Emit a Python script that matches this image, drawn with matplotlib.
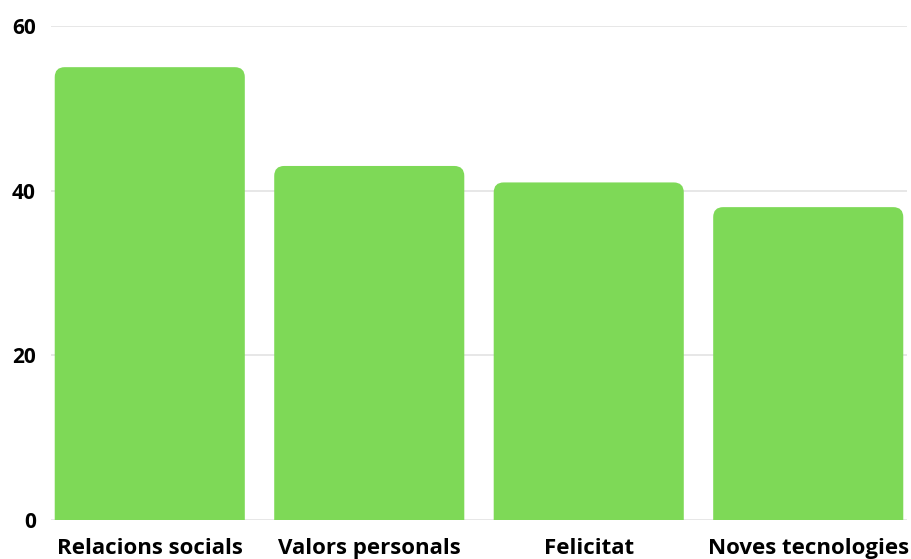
import matplotlib.pyplot as plt
from matplotlib.patches import PathPatch
from matplotlib.path import Path

# Data
categories = ["Relacions socials", "Valors personals", "Felicitat", "Noves tecnologies"]
values = [55, 43, 41, 38]
yticks = [0, 20, 40, 60]

bar_color = "#7ED957"
plt.rcParams['font.family'] = ['Open Sans', 'DejaVu Sans']

fig = plt.figure(figsize=(9.12, 5.59), dpi=100)
ax = fig.add_axes([51 / 912, 39 / 559, 856 / 912, 494 / 559])
ax.set_xlim(-0.45, 3.45)
ax.set_ylim(0, 60)

# grid
ax.set_yticks(yticks)
ax.grid(axis='y', color='#e3e3e3', linewidth=1.2)
ax.set_axisbelow(True)
for s in ax.spines.values():
    s.set_visible(False)
ax.tick_params(axis='both', length=0)
ax.tick_params(axis='y', pad=11, labelsize=15)
ax.tick_params(axis='x', pad=13, labelsize=16)
for lbl in ax.get_yticklabels():
    lbl.set_fontweight('bold')

# rounded-top bars, one path each
width = 0.866
px_x = 856 / 3.9      # pixels per x unit
px_y = 494 / 60       # pixels per y unit
rx = 10 / px_x
ry = 10 / px_y
for i, v in enumerate(values):
    l, r = i - width / 2, i + width / 2
    verts = [(l, 0), (l, v - ry), (l, v), (l + rx, v), (r - rx, v),
             (r, v), (r, v - ry), (r, 0), (l, 0)]
    codes = [Path.MOVETO, Path.LINETO, Path.CURVE3, Path.CURVE3, Path.LINETO,
             Path.CURVE3, Path.CURVE3, Path.LINETO, Path.CLOSEPOLY]
    ax.add_patch(PathPatch(Path(verts, codes), fc=bar_color, ec='none', zorder=2))

ax.set_xticks(range(len(categories)))
ax.set_xticklabels(categories, fontweight='bold')

fig.savefig("out.png", dpi=100)
